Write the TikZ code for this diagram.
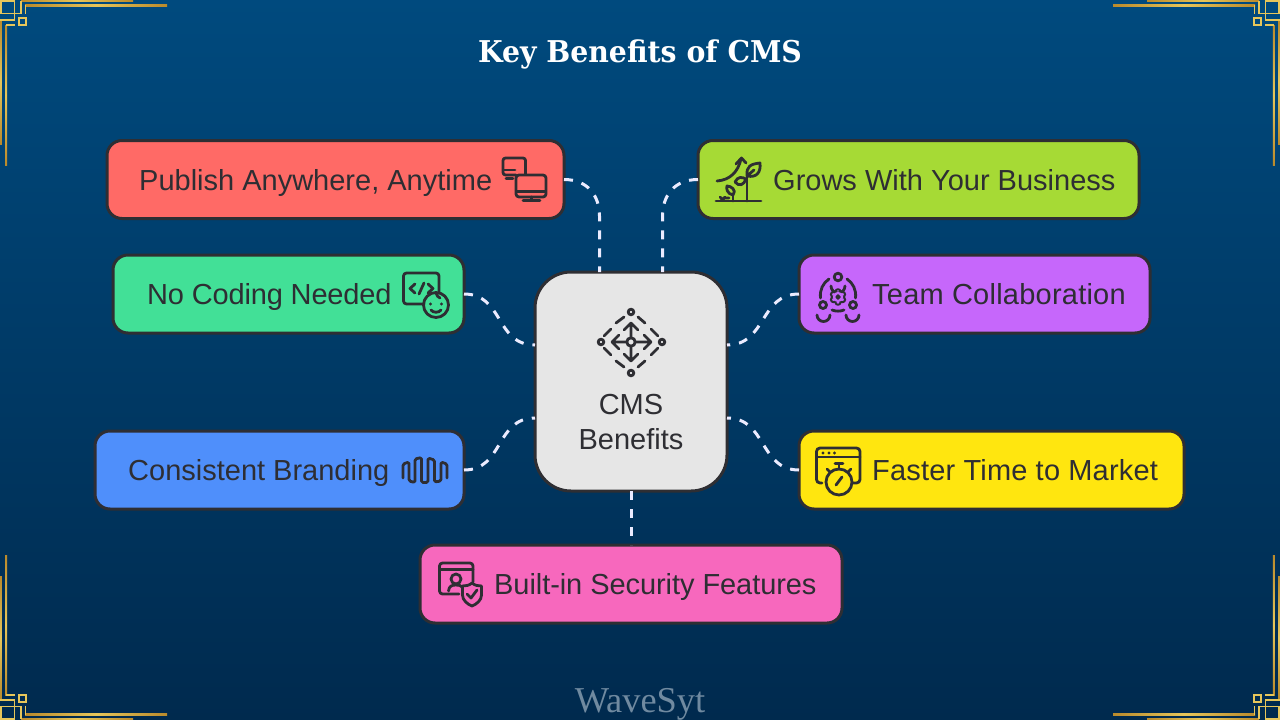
\documentclass[tikz,border=0pt]{standalone}
\usepackage{fontspec}
\setmainfont{Liberation Sans}
\newfontfamily\titlefont[FakeStretch=0.945]{DejaVu Serif}
\newfontfamily\markfont{Liberation Serif}
\definecolor{ink}{HTML}{2E2E33}
\definecolor{goldA}{HTML}{E6C65A}
\definecolor{goldB}{HTML}{B98A2C}
\definecolor{purplebox}{RGB}{198,103,251}
\tikzset{
  x=1pt,y=-1pt,
  box/.style={draw=ink,line width=3pt,rounded corners=15pt,inner sep=0pt,outer sep=0pt,minimum height=78pt},
  label/.style={anchor=base west,text=ink,inner sep=0pt,font=\fontsize{29}{34}\selectfont},
  link/.style={draw=white!92!blue,line width=3pt,dash pattern=on 9pt off 9pt},
  icon/.style={draw=ink,line width=2.8pt,line cap=round,line join=round},
  thin gold/.style={draw=goldA,line width=1.8pt},
  corner/.pic={
    \shade[left color=goldB,right color=goldB,middle color=goldA] (25,4.2) rectangle (167,6.2);
    \shade[left color=goldB,right color=goldB,middle color=goldA] (21,0) rectangle (133,1.6);
    \shade[top color=goldB,bottom color=goldB,middle color=goldA] (5.2,25) rectangle (7.2,165);
    \shade[top color=goldB,bottom color=goldB,middle color=goldA] (0,20) rectangle (1.8,144);
    \draw[thin gold] (1,1) rectangle (14.5,13.5);
    \draw[thin gold] (19,18) rectangle (26,25);
    \draw[thin gold] (6.2,25) -- (15,25);
    \draw[thin gold] (25.5,14) -- (25.5,5.2);
    \draw[thin gold] (21,1) -- (21,13.5) -- (14.5,13.5);
    \draw[thin gold] (0,19.8) -- (14.5,19.8) -- (14.5,13.5);
  }
}
\begin{document}
\begin{tikzpicture}
\useasboundingbox (0,0) rectangle (1280,720);
\shade[top color={rgb,255:red,0;green,74;blue,126},middle color={rgb,255:red,0;green,60;blue,105},bottom color={rgb,255:red,0;green,42;blue,78}] (0,0) rectangle (1280,720);
% corner ornaments
\pic at (0,0) {corner};
\pic[xscale=-1] at (1280,0) {corner};
\pic[yscale=-1] at (0,720) {corner};
\pic[xscale=-1,yscale=-1] at (1280,720) {corner};
% title and mark
\node[text=white,inner sep=0pt,anchor=base] (title) at (640,62.5) {\titlefont\bfseries\fontsize{30}{34}\selectfont Key Benefits of CMS};
\node[text={rgb,255:red,112;green,138;blue,160},inner sep=0pt,anchor=base] (mark) at (640,712) {\markfont\fontsize{36.4}{40}\selectfont WaveSyt};
% boxes
\node[box,fill={rgb,255:red,255;green,106;blue,102},minimum width=457pt] (pub) at (335.5,179.5) {};
\node[box,fill={rgb,255:red,166;green,218;blue,53},minimum width=441pt] (grow) at (918.5,179.5) {};
\node[box,fill={rgb,255:red,66;green,224;blue,151},minimum width=351pt] (code) at (288.5,294) {};
\node[box,fill=purplebox,minimum width=351pt] (team) at (974.5,294) {};
\node[box,fill={rgb,255:red,79;green,143;blue,251},minimum width=369pt] (brand) at (279.5,470) {};
\node[box,fill={rgb,255:red,255;green,230;blue,15},minimum width=385pt] (fast) at (991.5,470) {};
\node[box,fill={rgb,255:red,247;green,104;blue,189},minimum width=422pt] (sec) at (631,584) {};
\node[box,fill={rgb,255:red,230;green,230;blue,230},minimum width=192pt,minimum height=219pt,rounded corners=36pt] (hub) at (631,381.5) {};
% connectors
\draw[link] (pub.east) .. controls +(24,0) and +(0,-20) .. ([xshift=-31.5pt,yshift=56pt]hub.north) -- ([xshift=-31.5pt]hub.north);
\draw[link] (grow.west) .. controls +(-24,0) and +(0,-20) .. ([xshift=31.5pt,yshift=56pt]hub.north) -- ([xshift=31.5pt]hub.north);
\draw[link] (code.east) .. controls +(40,0) and +(-40,0) .. ([yshift=36.5pt]hub.west);
\draw[link] (team.west) .. controls +(-40,0) and +(40,0) .. ([yshift=36.5pt]hub.east);
\draw[link] (brand.east) .. controls +(40,0) and +(-40,0) .. ([yshift=-36.5pt]hub.west);
\draw[link] (fast.west) .. controls +(-40,0) and +(40,0) .. ([yshift=-36.5pt]hub.east);
\draw[link] (hub.south) -- (sec.north);
% labels
\node[label] (tpub) at (139,190) {Publish Anywhere, Anytime};
\node[label] (tgrow) at (773,190) {Grows With Your Business};
\node[label] (tcode) at (147,304) {\addfontfeature{LetterSpace=-0.65}No Coding Needed};
\node[label] (tteam) at (872,304) {\addfontfeature{LetterSpace=0.8}Team Collaboration};
\node[label] (tbrand) at (128,480) {Consistent Branding};
\node[label] (tfast) at (872,480) {\addfontfeature{LetterSpace=0.65}Faster Time to Market};
\node[label] (tsec) at (494,594) {\addfontfeature{LetterSpace=-0.25}Built-in Security Features};
\node[text=ink,inner sep=0pt,anchor=base,font=\fontsize{29}{35}\selectfont] (thub1) at (631,414) {CMS};
\node[text=ink,inner sep=0pt,anchor=base,font=\fontsize{29}{35}\selectfont] (thub2) at (631,449) {Benefits};
% hub icon
\draw[icon] (631,342) circle (4.2);
\draw[icon] (631,338) -- (631,323) (624,330) -- (631,323) -- (638,330);
\draw[icon] (631,346) -- (631,361) (624,354) -- (631,361) -- (638,354);
\draw[icon] (627,342) -- (612,342) (619,335) -- (612,342) -- (619,349);
\draw[icon] (635,342) -- (651,342) (644,335) -- (651,342) -- (644,349);
\draw[icon] (631,312) circle (2.8) (631,373) circle (2.8) (601,342) circle (2.8) (662,342) circle (2.8);
\draw[icon] (616,323) -- (624,317) (638,317) -- (645,323) (651,329) -- (658,336)
            (604,336) -- (611,329) (604,348) -- (611,355) (616,361) -- (624,367)
            (638,367) -- (645,361) (651,355) -- (658,348);
% monitors icon
\draw[icon,rounded corners=2.5pt] (516,175) -- (503,175) -- (503,158) -- (525.5,158) -- (525.5,174);
\draw[icon] (504,170) -- (515,170) (506,178.5) -- (513,178.5);
\draw[icon,rounded corners=3pt] (516,175) rectangle (546,197);
\draw[icon] (517,191.5) -- (545,191.5) (531.5,197) -- (531.5,200.5) (523,200.5) -- (540,200.5);
% growth icon
\draw[icon] (716,201) -- (761,201) (747,201) -- (747,174);
\draw[icon] (717,181) .. controls (730,180) and (738,172) .. (741,159);
\draw[icon] (736,164) -- (741.5,158) -- (746,163);
\draw[icon] (747,176) .. controls (746,166) and (751,164) .. (760,163) .. controls (761,172) and (757,178) .. (747,176) -- (754,170);
\draw[icon] (735,182) .. controls (738,176) and (742,177) .. (746,179) .. controls (744,185) and (739,187) .. (735,182);
\draw[icon] (733,201) -- (733,195);
\draw[icon] (733,195) .. controls (727,194) and (726,188) .. (727,186) .. controls (731,186) and (737,190) .. (733,195);
\draw[icon] (720,197) -- (724,201) (725,197) -- (721,201) (724,198) -- (729,198);
% team icon
\draw[icon] (838,277) circle (3.8);
\draw[icon] (831,286) arc[start angle=180,end angle=0,radius=7];
\draw[icon] (823,305) circle (3.5) (853,305) circle (3.5);
\draw[icon] (817,315) arc[start angle=180,end angle=0,radius=6.5];
\draw[icon] (846,315) arc[start angle=180,end angle=0,radius=6.5];
\draw[icon] (820.5,298) .. controls (819.5,290) and (823,283) .. (829,279);
\draw[icon] (847,279) .. controls (853,283) and (856.5,290) .. (855.5,298);
\draw[icon] (832,310) .. controls (836,311.5) and (840,311.5) .. (844,310);
\foreach \a in {30,90,150,210,270,330}
  \draw[icon,line width=2pt] (838,297) ++(\a:5.2) circle (2.6);
\fill[purplebox] (838,297) circle (5.2);
\draw[icon,line width=2pt] (838,297) circle (1.8);
% code icon
\draw[icon,rounded corners=3pt] (424,304) -- (403.5,304) -- (403.5,273) -- (439,273) -- (439,293);
\draw[icon] (415,284) -- (410,288.5) -- (415,293) (428,284) -- (433,288.5) -- (428,293) (424,283) -- (419,294);
\draw[icon] (436,305) circle (12.5);
\draw[icon] (431,310) .. controls (433,313) and (439,313) .. (441,310);
\fill[ink] (430.5,304) circle (1.6) (441.5,304) circle (1.6);
\draw[icon] (436,293) .. controls (437,296) and (438,297) .. (440,298);
% branding icon
\draw[icon,rounded corners=1.5pt] (403,478) -- (403,464) -- (409,462) -- (409,481) -- (415,482.5) -- (415,459) -- (421.5,457.5) -- (421.5,482.5) -- (428,482.5) -- (428,458) -- (434.5,460) -- (434.5,482) -- (441,481) -- (441,462) -- (447,464) -- (447,478);
% stopwatch icon
\draw[icon,rounded corners=3.5pt] (822,483) -- (816.5,483) -- (816.5,448) -- (860,448) -- (860,483) -- (853,483);
\draw[icon] (817,457) -- (860,457);
\fill[ink] (823,453) circle (1.7) (829,453) circle (1.7) (834.5,453) circle (1.7);
\draw[icon] (839,482) circle (13);
\draw[icon] (835,463.5) -- (843,463.5) (839,463.5) -- (839,469);
\draw[icon] (827,469) -- (830,472) (851,469) -- (848,472);
\draw[icon] (836,485) -- (842,477);
% security icon
\draw[icon,rounded corners=3pt] (459,594) -- (439.5,594) -- (439.5,563) -- (473,563) -- (473,582);
\draw[icon] (440,569.5) -- (473,569.5);
\draw[icon] (456,579) circle (5);
\draw[icon] (448.5,591) .. controls (449,586) and (452,585) .. (456,585) .. controls (459,585) and (461,585.5) .. (462,587);
\draw[icon] (472,583) .. controls (475,585.5) and (478,586) .. (481.5,586) -- (481.5,595) .. controls (481.5,600) and (477,604) .. (472,606) .. controls (467,604) and (462.5,600) .. (462.5,595) -- (462.5,586) .. controls (466,586) and (469,585.5) .. (472,583) -- cycle;
\draw[icon] (467,594) -- (471,598) -- (477,590);
\end{tikzpicture}
\end{document}
